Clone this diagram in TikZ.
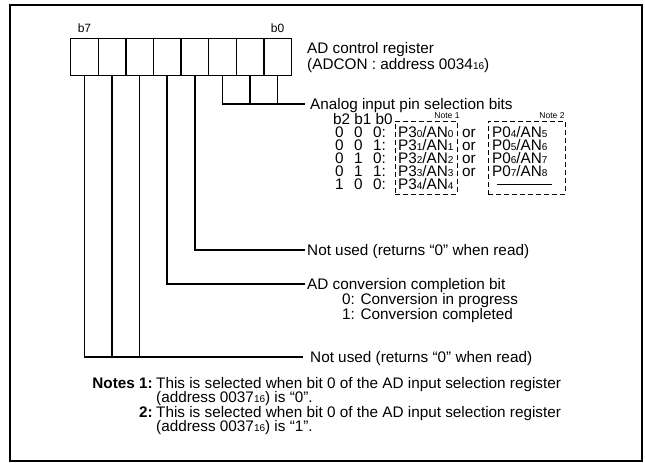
\documentclass[tikz,border=0pt]{standalone}
\usepackage{fontspec}
\setmainfont{Liberation Sans}
\newcommand\lo[1]{{\fontsize{10}{10}\selectfont #1}}
\newcommand\bits[3]{#1\hspace{10.5pt}#2\hspace{10.5pt}#3:}
\tikzset{
  txt/.style={inner sep=0pt, anchor=base west},
  bitbox/.style={draw, line width=1.3pt, minimum width=27.6pt, minimum height=37pt, inner sep=0pt, anchor=north west},
  wire/.style={line width=1.6pt},
  selbox/.style={draw, dash pattern=on 5pt off 3pt, line width=0.8pt, inner sep=0pt, anchor=north west},
  small/.style={inner sep=0pt, anchor=base, font=\fontsize{8.5}{8.5}\selectfont},
}
\begin{document}
\begin{tikzpicture}[x=1pt,y=-1pt, font=\fontsize{15.3}{15.3}\selectfont]
\useasboundingbox (0,0) rectangle (645,463);
\draw[line width=2pt] (10,5) rectangle (642,461);
% register
\foreach \i in {0,...,7}{
  \pgfmathtruncatemacro\j{7-\i}
  \node[bitbox] (b\j) at ({70+27.6*\i},38) {};
}
\node[anchor=base, inner sep=0pt, font=\fontsize{12}{12}\selectfont] (lb7) at (b7.north |- 0,32) {b7};
\node[anchor=base, inner sep=0pt, font=\fontsize{12}{12}\selectfont] (lb0) at (b0.north |- 0,32) {b0};
\node[txt] (reg1) at (307,53) {AD control register};
\node[txt] (reg2) at (307,69) {(ADCON : address 0034\lo{16})};
% analog selection
\coordinate (anaend) at (305,104);
\node[txt] (ana) at (310,109.5) {Analog input pin selection bits};
\draw[wire] (b2.south) |- (anaend);
\draw[wire] (b1.south) -- (b1.south |- anaend);
\draw[wire] (b0.south) -- (b0.south |- anaend);
\node[txt] (hdr) at (333,124.5) {b2 b1 b0};
\node[small] (note1) at (447,118) {Note 1};
\node[small] (note2) at (552,118) {Note 2};
\node[selbox, minimum width=62pt, minimum height=73pt] (box1) at (395,121) {};
\node[selbox, minimum width=77pt, minimum height=73pt] (box2) at (488,121) {};
% rows
\node[txt] (code0) at (335,137.5) {\bits000};
\node[txt] (code1) at (335,150.5) {\bits001};
\node[txt] (code2) at (335,163.5) {\bits010};
\node[txt] (code3) at (335,176.5) {\bits011};
\node[txt] (code4) at (335,189.5) {\bits100};
\node[txt] (pa0) at (398,137.5) {P3\lo{0}/AN\lo{0}};
\node[txt] (pa1) at (398,150.5) {P3\lo{1}/AN\lo{1}};
\node[txt] (pa2) at (398,163.5) {P3\lo{2}/AN\lo{2}};
\node[txt] (pa3) at (398,176.5) {P3\lo{3}/AN\lo{3}};
\node[txt] (pa4) at (398,189.5) {P3\lo{4}/AN\lo{4}};
\node[txt] (or0) at (462,137.5) {or};
\node[txt] (or1) at (462,150.5) {or};
\node[txt] (or2) at (462,163.5) {or};
\node[txt] (or3) at (462,176.5) {or};
\node[txt] (pb0) at (492,137.5) {P0\lo{4}/AN\lo{5}};
\node[txt] (pb1) at (492,150.5) {P0\lo{5}/AN\lo{6}};
\node[txt] (pb2) at (492,163.5) {P0\lo{6}/AN\lo{7}};
\node[txt] (pb3) at (492,176.5) {P0\lo{7}/AN\lo{8}};
\coordinate (dl) at (497,184);
\coordinate (dr) at (552,184);
\draw[line width=0.8pt] (dl) -- (dr);
% not used (b3)
\coordinate (nu1end) at (305,250);
\node[txt] (nu1) at (307,255.5) {Not used (returns “0” when read)};
\draw[wire] (b3.south) |- (nu1end);
% AD conversion (b4)
\coordinate (adend) at (305,284);
\node[txt] (ad) at (307,289.5) {AD conversion completion bit};
\node[txt] (ad0) at (342,304.5) {0: Conversion in progress};
\node[txt] (ad1) at (342,319.5) {1: Conversion completed};
\draw[wire] (b4.south) |- (adend);
% not used (b7-b5)
\coordinate (nu2end) at (303,357);
\node[txt] (nu2) at (310,362.5) {Not used (returns “0” when read)};
\draw[wire] (b7.south) |- (nu2end);
\draw[wire] (b6.south) -- (b6.south |- nu2end);
\draw[wire] (b5.south) -- (b5.south |- nu2end);
% notes
\node[inner sep=0pt, anchor=base east, font=\fontsize{15.3}{15.3}\selectfont\bfseries] (n1l) at (153,388) {Notes 1:};
\node[txt] (n1a) at (156,388) {This is selected when bit 0 of the AD input selection register};
\node[txt] (n1b) at (156,402) {(address 0037\lo{16}) is “0”.};
\node[inner sep=0pt, anchor=base east, font=\fontsize{15.3}{15.3}\selectfont\bfseries] (n2l) at (153,417) {2:};
\node[txt] (n2a) at (156,417) {This is selected when bit 0 of the AD input selection register};
\node[txt] (n2b) at (156,431) {(address 0037\lo{16}) is “1”.};
\end{tikzpicture}
\end{document}
